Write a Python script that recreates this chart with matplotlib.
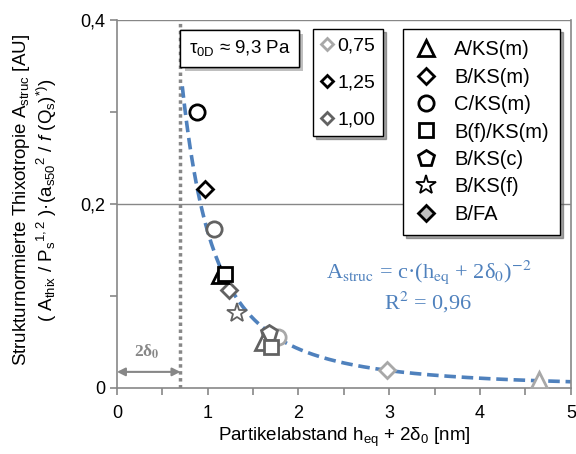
import numpy as np
import matplotlib
matplotlib.use("Agg")
import matplotlib.pyplot as plt
from matplotlib.lines import Line2D
from matplotlib import patheffects
from matplotlib.ticker import FixedLocator, FuncFormatter

plt.rcParams["font.family"] = ["Liberation Sans", "DejaVu Sans"]
plt.rcParams["mathtext.fontset"] = "custom"
plt.rcParams["mathtext.rm"] = "Liberation Sans"
plt.rcParams["mathtext.it"] = "Liberation Sans:italic"
plt.rcParams["mathtext.bf"] = "Liberation Sans:bold"

# data
# black = 1,25 ; dark grey = 1,00 ; light grey = 0,75
black_markers = ["o", "D", "^", "s"]
black_x = [0.88, 0.97, 1.13, 1.19]
black_y = [0.300, 0.216, 0.123, 0.124]

dark_markers = ["o", "D", "*", "p", "^", "s"]
dark_x = [1.07, 1.24, 1.32, 1.67, 1.61, 1.70]
dark_y = [0.173, 0.107, 0.082, 0.060, 0.050, 0.045]

light_markers = ["o", "D", "^"]
light_x = [1.77, 2.97, 4.65]
light_y = [0.055, 0.020, 0.009]

fit_c = 0.17
fit_exp = -2
two_delta0 = 0.7
fit_x = np.linspace(0.72, 5.0, 200)

col_black = "#000000"
col_dark = "#626262"
col_light = "#a8a8a8"
col_fit = "#4f81bd"
col_axis = "#878787"

fig = plt.figure(figsize=(5.76, 4.54), dpi=100)
ax = fig.add_axes([0.203, 0.1454, 0.788, 0.8105])

ax.set_xlim(0, 5)
ax.set_ylim(0, 0.4)

# gridlines
for gy in [0.2, 0.4]:
    ax.axhline(gy, color=col_axis, lw=1.0, zorder=0)

# 2*delta0 line
ax.plot([two_delta0, two_delta0], [0, 0.4], color=col_axis, lw=2.5,
        linestyle=(0, (1, 1)), zorder=1)

# fit curve
ax.plot(fit_x, fit_c * fit_x ** fit_exp, color=col_fit, lw=2.6,
        linestyle=(0, (3.2, 1.6)), zorder=2)

sizes = {"o": 11, "D": 8, "^": 11, "s": 10, "p": 12, "*": 15}
widths = {"o": 2.0, "D": 2.0, "^": 2.0, "s": 2.0, "p": 2.0, "*": 1.3}


def draw(xs, ys, ms, color):
    for x, y, m in zip(xs, ys, ms):
        ax.plot(x, y, linestyle="none", marker=m, ms=sizes[m], mfc="white",
                mec=color, mew=widths[m], zorder=3)


draw(light_x, light_y, light_markers, col_light)
draw(dark_x, dark_y, dark_markers, col_dark)
draw(black_x, black_y, black_markers, col_black)

# axes styling
ax.spines["top"].set_visible(False)
for s in ["left", "bottom", "right"]:
    ax.spines[s].set_color(col_axis)
    ax.spines[s].set_linewidth(1.2)

ax.xaxis.set_major_locator(FixedLocator(np.arange(0, 5.01, 0.5)))
ax.xaxis.set_major_formatter(FuncFormatter(
    lambda v, p: f"{v:.0f}" if abs(v - round(v)) < 1e-6 else ""))
ax.yaxis.set_major_locator(FixedLocator(np.arange(0, 0.401, 0.1)))
ax.yaxis.set_major_formatter(FuncFormatter(
    lambda v, p: ("0" if abs(v) < 1e-9 else f"{v:.1f}".replace(".", ","))
    if round(v * 10) % 2 == 0 else ""))
ax.tick_params(axis="both", colors=col_axis, labelcolor="black",
               labelsize=13, length=5, width=1.2, direction="out")
ax.tick_params(axis="x", pad=7)

ax.set_xlabel("Partikelabstand h$_{\\mathrm{eq}}$ + 2δ$_{0}$ [nm]",
              fontsize=13.5, labelpad=3)
ax.set_ylabel("Strukturnormierte Thixotropie A$_{\\mathrm{struc}}$ [AU]\n"
              "( A$_{\\mathrm{thix}}$ / P$_{\\mathrm{s}}$$^{\\mathrm{1,2}}$ )"
              "·(a$_{\\mathrm{s50}}$$^{\\mathrm{2}}$ / $f$ (Q$_{\\mathrm{s}}$)$^{\\mathrm{*)}}$)",
              fontsize=13.5, linespacing=1.15)
ax.yaxis.set_label_coords(-0.127, 0.51)

# 2 delta0 arrow
ax.annotate("", xy=(0.0, 0.0175), xytext=(two_delta0, 0.0175),
            arrowprops=dict(arrowstyle="<|-|>", color=col_axis, lw=1.5,
                            mutation_scale=12, shrinkA=0, shrinkB=0))
ax.text(0.33, 0.039, "2δ$_{\\mathbf{0}}$", color=col_axis, fontsize=12.5,
        fontweight="bold", ha="center", va="center",
        family="Liberation Serif", math_fontfamily="stix")

# equation
ax.text(3.43, 0.126, "A$_{\\mathrm{struc}}$ = c·(h$_{\\mathrm{eq}}$ + 2δ$_{0}$)$^{-2}$",
        color=col_fit, fontsize=16, ha="center", va="center",
        family="Liberation Serif", math_fontfamily="stix")
ax.text(3.43, 0.0935, "R$^{2}$ = 0,96", color=col_fit, fontsize=16,
        ha="center", va="center", family="Liberation Serif",
        math_fontfamily="stix")

# tau box
t = fig.text(0.328, 0.894, "τ$_{\\mathrm{0D}}$ ≈ 9,3 Pa", fontsize=13.5,
             ha="left", va="center",
             bbox=dict(boxstyle="square,pad=0.45", fc="white", ec="black", lw=1.0))
t.get_bbox_patch().set_path_effects([
    patheffects.withSimplePatchShadow(offset=(3, -3), shadow_rgbFace="grey", alpha=0.5),
    patheffects.Normal()])

# legend 1: colour = factor
h1 = [Line2D([], [], ls="none", marker="D", ms=6, mfc="white", mec=c, mew=2.0)
      for c in [col_light, col_black, col_dark]]
leg1 = fig.legend(h1, ["0,75", "1,25", "1,00"], loc="upper left",
                  bbox_to_anchor=(0.5434, 0.936), fontsize=14, frameon=True,
                  fancybox=False, edgecolor="black", shadow=True,
                  handlelength=0.6, handletextpad=0.25, labelspacing=1.0,
                  borderpad=0.4, borderaxespad=0)
leg1.get_frame().set_linewidth(1.0)

# legend 2: marker = material
h2 = [Line2D([], [], ls="none", marker=m, ms=s, mfc=fc, mec="black", mew=w)
      for m, s, fc, w in [("^", 11, "white", 2.0), ("D", 8, "white", 2.0),
                          ("o", 11, "white", 2.0), ("s", 10, "white", 2.0),
                          ("p", 12, "white", 2.0), ("*", 15, "white", 1.3),
                          ("D", 8, "#bfbfbf", 2.0)]]
leg2 = fig.legend(h2, ["A/KS(m)", "B/KS(m)", "C/KS(m)", "B(f)/KS(m)", "B/KS(c)",
                       "B/KS(f)", "B/FA"], loc="upper left",
                  bbox_to_anchor=(0.6997, 0.936), fontsize=14.5, frameon=True,
                  fancybox=False, edgecolor="black", shadow=True,
                  handlelength=1.2, handletextpad=0.8, labelspacing=0.42,
                  borderpad=0.55, borderaxespad=0)
leg2.get_frame().set_linewidth(1.0)

fig.savefig("out.png", dpi=100)
